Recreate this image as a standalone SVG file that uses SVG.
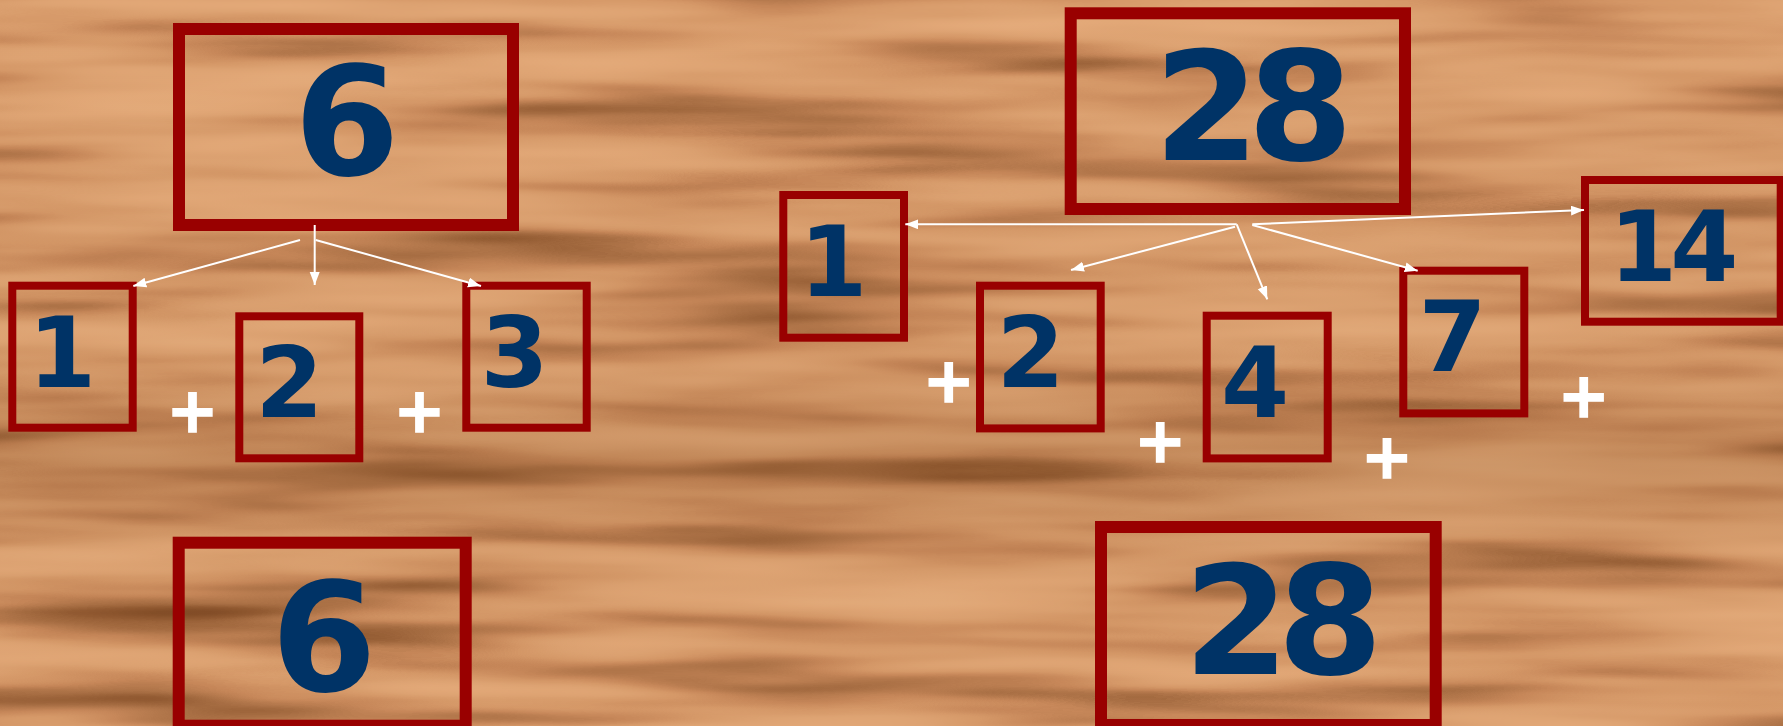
<svg xmlns="http://www.w3.org/2000/svg" width="1783" height="726" viewBox="0 0 1783 726">
<style>
.box{fill:none;stroke:#990000;stroke-width:8}
.big{stroke-width:12}
.num{font-family:"DejaVu Sans","Verdana",sans-serif;font-weight:bold;fill:#003366;text-anchor:middle}
.s{font-size:98px}
.l{font-size:152px}
.tight{letter-spacing:-12px}
.tight2{letter-spacing:-7px}
.plus{font-family:"DejaVu Sans",sans-serif;font-weight:bold;font-size:62px;fill:#ffffff;stroke:#ffffff;stroke-width:1.5;text-anchor:middle}
.conn{stroke:#ffffff;stroke-width:2;fill:none;marker-end:url(#arr)}
</style>
<defs>
<marker id="arr" markerUnits="userSpaceOnUse" markerWidth="15" markerHeight="11" refX="13" refY="5" orient="auto">
<path d="M0,0 L13,5 L0,10 Z" fill="#ffffff"/>
</marker>
<filter id="wood" filterUnits="userSpaceOnUse" x="0" y="0" width="1783" height="726" color-interpolation-filters="sRGB">
<feTurbulence type="fractalNoise" baseFrequency="0.0018 0.022" numOctaves="3" seed="7" result="n"/>
<feColorMatrix in="n" type="matrix" values="1 0 0 0 0  1 0 0 0 0  1 0 0 0 0  0 0 0 0 1" result="g"/>
<feComponentTransfer in="g">
<feFuncR type="table" tableValues="0.50 0.52 0.58 0.68 0.78 0.84 0.87 0.89 0.90 0.91 0.91"/>
<feFuncG type="table" tableValues="0.29 0.31 0.36 0.45 0.53 0.60 0.64 0.66 0.68 0.69 0.69"/>
<feFuncB type="table" tableValues="0.15 0.16 0.20 0.28 0.35 0.41 0.45 0.47 0.49 0.50 0.50"/>
</feComponentTransfer>
</filter>
<linearGradient id="shade" x1="0" y1="0" x2="0" y2="1">
<stop offset="0" stop-color="#6b3a12" stop-opacity="0"/>
<stop offset="0.5" stop-color="#6b3a12" stop-opacity="0.05"/>
<stop offset="0.64" stop-color="#6b3a12" stop-opacity="0.2"/>
<stop offset="0.76" stop-color="#6b3a12" stop-opacity="0.05"/>
<stop offset="1" stop-color="#6b3a12" stop-opacity="0"/>
</linearGradient>
</defs>
<g id="background">
<rect x="0" y="0" width="1783" height="726" fill="#cf9868"/>
<rect x="0" y="0" width="1783" height="726" filter="url(#wood)"/>
<rect x="0" y="0" width="1783" height="726" fill="url(#shade)"/>
</g>
<g id="n6top"><rect class="box big" x="179" y="29" width="334" height="196"/><text class="num l" x="347" y="175">6</text></g>
<g id="n1left"><rect class="box" x="12.3" y="285.7" width="120.4" height="142"/><text class="num s" x="62" y="386.7">1</text></g>
<g id="n2left"><rect class="box" x="239.3" y="316.3" width="120" height="142"/><text class="num s" x="289.3" y="417.3">2</text></g>
<g id="n3left"><rect class="box" x="466.3" y="285.7" width="120.4" height="142"/><text class="num s" x="514.5" y="386.5">3</text></g>
<g id="n6bottom"><rect class="box big" x="178.7" y="542.7" width="287" height="183"/><text class="num l" x="323.8" y="691">6</text></g>
<g id="n28top"><rect class="box big" x="1070.7" y="13.3" width="334.3" height="195.7"/><text class="num l tight" x="1247.5" y="159.5">28</text></g>
<g id="n1right"><rect class="box" x="783.3" y="195" width="120.7" height="142.7"/><text class="num s" x="833.3" y="296">1</text></g>
<g id="n2right"><rect class="box" x="980" y="285.7" width="120.7" height="142.7"/><text class="num s" x="1030.5" y="387.3">2</text></g>
<g id="n4right"><rect class="box" x="1206.7" y="315.7" width="121" height="142.7"/><text class="num s" x="1255" y="416.7">4</text></g>
<g id="n7right"><rect class="box" x="1403.3" y="270.7" width="121" height="142.7"/><text class="num s" x="1452.7" y="371">7</text></g>
<g id="n14right"><rect class="box" x="1585" y="180" width="195.7" height="141.7"/><text class="num s tight2" x="1670.3" y="280.7">14</text></g>
<g id="n28bottom"><rect class="box big" x="1101" y="527" width="334.7" height="198"/><text class="num l tight" x="1277.3" y="673.5">28</text></g>
<g id="connectors">
<line class="conn" x1="300" y1="240" x2="133.3" y2="286"/>
<line class="conn" x1="314.7" y1="225" x2="314.7" y2="285"/>
<line class="conn" x1="315.7" y1="240" x2="481" y2="286"/>
<line class="conn" x1="1236.7" y1="224.3" x2="905.3" y2="224.3"/>
<line class="conn" x1="1235" y1="226.7" x2="1071" y2="270"/>
<line class="conn" x1="1236.7" y1="224.3" x2="1267.3" y2="299.3"/>
<line class="conn" x1="1252.3" y1="225" x2="1417.7" y2="270.7"/>
<line class="conn" x1="1252.3" y1="224.3" x2="1584" y2="210"/>
</g>
<g id="plus-signs">
<text class="plus" x="192.5" y="432">+</text>
<text class="plus" x="419.5" y="432">+</text>
<text class="plus" x="948.7" y="402.3">+</text>
<text class="plus" x="1160.3" y="462.3">+</text>
<text class="plus" x="1387" y="478">+</text>
<text class="plus" x="1583.7" y="417.3">+</text>
</g>
</svg>
